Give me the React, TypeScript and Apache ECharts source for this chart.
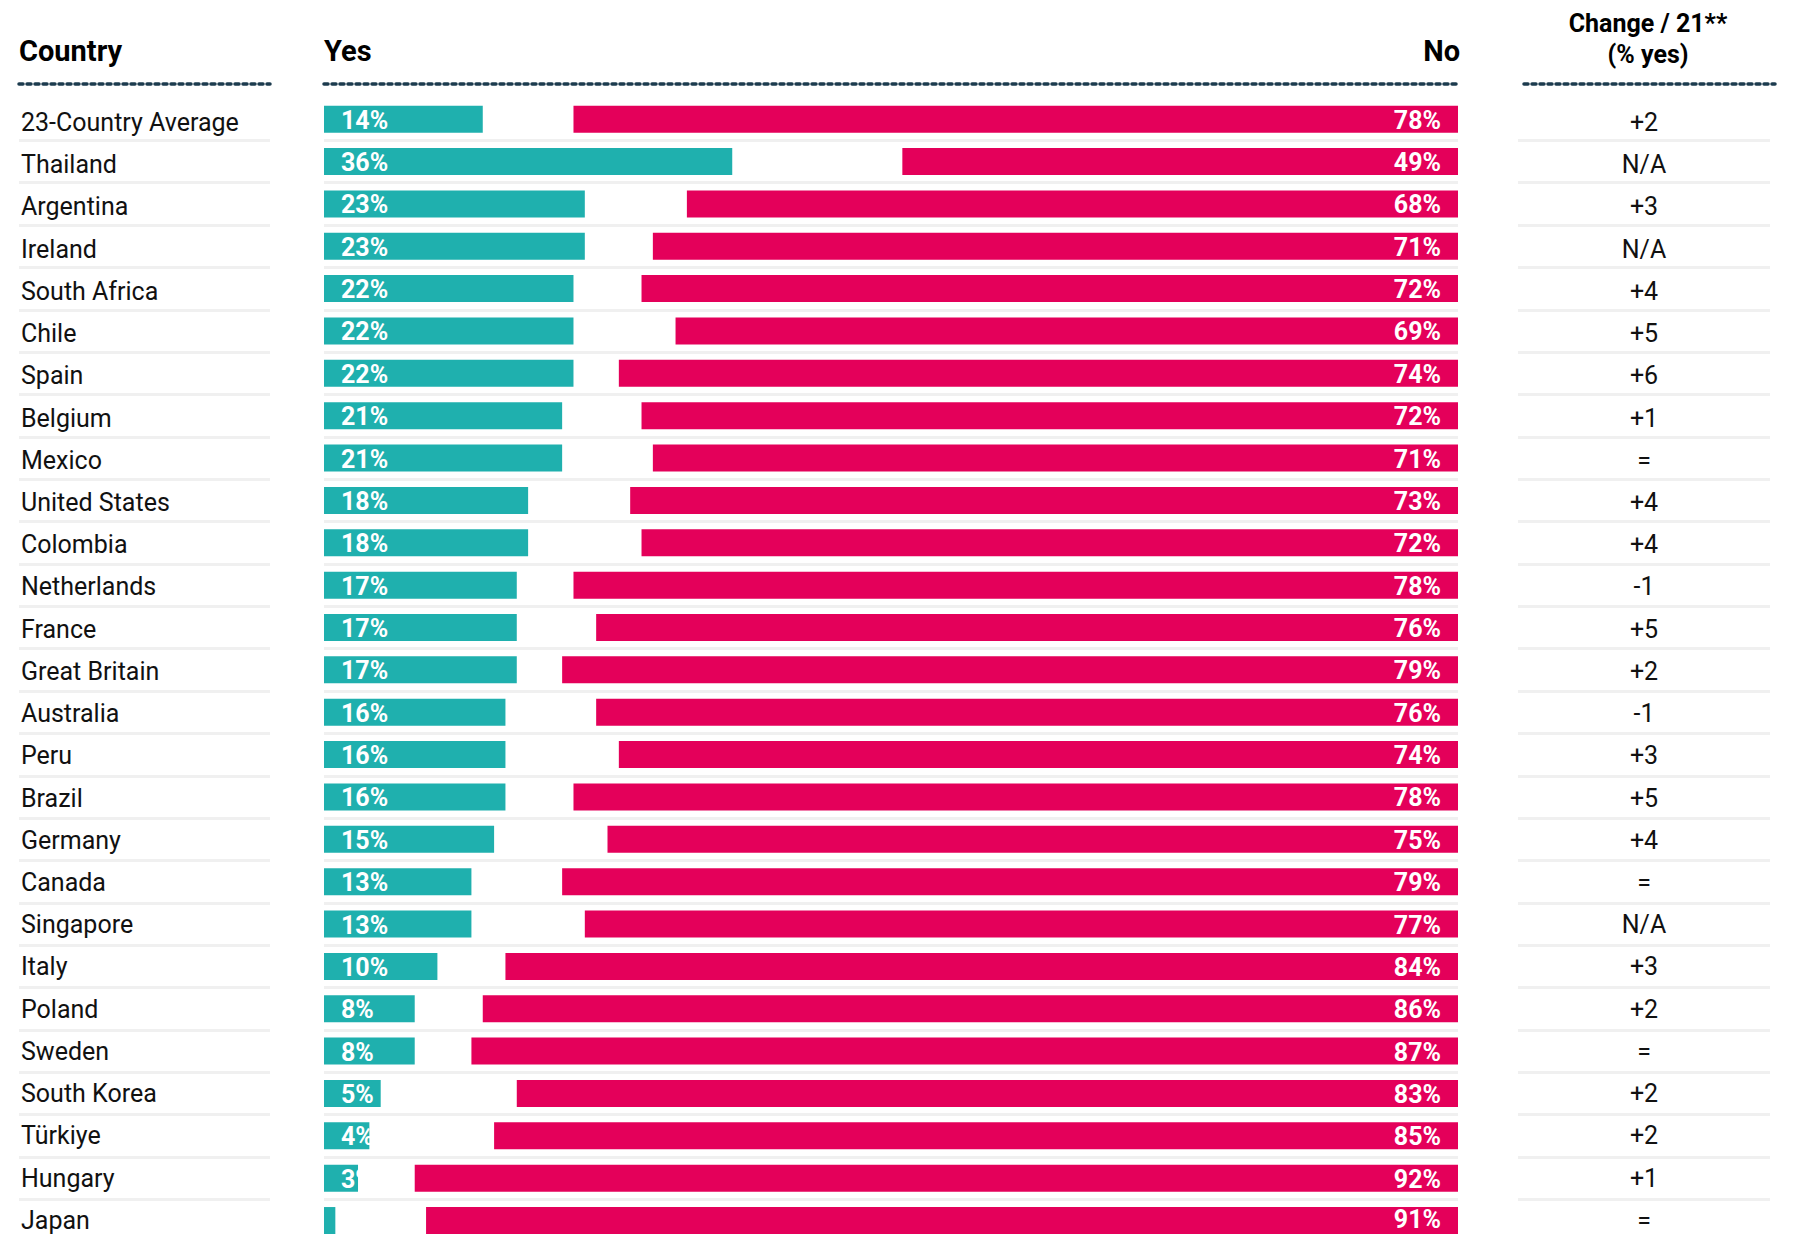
import React, { useEffect, useRef } from "react";
import * as echarts from "echarts";

// Survey results per country: share answering Yes / No, and change in % yes
const countries = [
  "23-Country Average", "Thailand", "Argentina", "Ireland", "South Africa", "Chile",
  "Spain", "Belgium", "Mexico", "United States", "Colombia", "Netherlands", "France",
  "Great Britain", "Australia", "Peru", "Brazil", "Germany", "Canada", "Singapore",
  "Italy", "Poland", "Sweden", "South Korea", "Türkiye", "Hungary", "Japan",
];
const yesValues = [14, 36, 23, 23, 22, 22, 22, 21, 21, 18, 18, 17, 17, 17, 16, 16, 16, 15, 13, 13, 10, 8, 8, 5, 4, 3, 1];
const noValues = [78, 49, 68, 71, 72, 69, 74, 72, 71, 73, 72, 78, 76, 79, 76, 74, 78, 75, 79, 77, 84, 86, 87, 83, 85, 92, 91];
const changeLabels = [
  "+2", "N/A", "+3", "N/A", "+4", "+5", "+6", "+1", "=", "+4", "+4", "-1", "+5",
  "+2", "-1", "+3", "+5", "+4", "=", "N/A", "+3", "+2", "=", "+2", "+2", "+1", "=",
];

const FONT = "Roboto, 'Noto Sans', sans-serif";
const TEAL = "#1FB0AE";
const PINK = "#E4005A";
const DOT = "#1C3B4E";
const SEP = "#F0F0F0";

const ROW_H = 42.36;
const GRID_TOP = 98;
const GRID_H = ROW_H * countries.length;
const DOT_Y = 84;
// Row texts run on a slightly tighter pitch, starting a little lower
const TEXT_ROW_H = 42.22;
const TEXT_TOP = 101.4;
const BAR_LEFT = 324;
const BAR_W = 1134;
const LABEL_PAD = 17;
const COUNTRY_COL = { left: 19, width: 251 };
const CHANGE_COL = { left: 1518, width: 252 };
const CHANGE_HEAD = { left: 1524, width: 251 };
const CHANGE_CENTER = 1644;

export default function App() {
  const ref = useRef<HTMLDivElement>(null);

  useEffect(() => {
    if (!ref.current) return;
    const chart = echarts.init(ref.current, null, { renderer: "svg" });
    const pxPerPct = BAR_W / 100;

    const dottedTop = (gridIndex: number, top: number, extra: any = {}) => ({
      type: "value",
      gridIndex,
      position: "top",
      offset: top - DOT_Y,
      axisLine: { show: true, onZero: false, lineStyle: { color: DOT, width: 3.5, type: [4, 4] } },
      axisTick: { show: false },
      axisLabel: { show: false },
      splitLine: { show: false },
      ...extra,
    });

    const hiddenX = (gridIndex: number) => ({ type: "value", gridIndex, show: false });

    // Category axis that only draws the light row separators
    const sepAxis = (gridIndex: number) => ({
      type: "category",
      gridIndex,
      data: countries,
      inverse: true,
      axisLine: { show: false },
      axisTick: { show: false },
      axisLabel: { show: false, interval: 0 },
      splitLine: {
        show: true,
        interval: 0,
        showMinLine: false,
        lineStyle: { color: SEP, width: 3 },
      },
    });

    // Category axis that only draws row texts
    const textAxis = (gridIndex: number, label: any) => ({
      type: "category",
      gridIndex,
      data: countries,
      inverse: true,
      axisLine: { show: false },
      axisTick: { show: false },
      splitLine: { show: false },
      axisLabel: {
        show: true,
        interval: 0,
        inside: true,
        color: "#111111",
        fontFamily: FONT,
        fontSize: 25,
        lineHeight: 24,
        ...label,
      },
    });

    const gridBase = { top: GRID_TOP, height: GRID_H, outerBoundsMode: "none", containLabel: false };
    const textGridBase = { ...gridBase, top: TEXT_TOP, height: TEXT_ROW_H * countries.length };

    // Labels on bars too narrow to hold any digit are left out
    const yesData = yesValues.map((v) => {
      const room = v * pxPerPct - LABEL_PAD;
      return room < 6 ? { value: v, label: { show: false } } : { value: v };
    });
    // The last row sits on the bottom edge: lift its label a touch
    const noData = noValues.map((v, i) =>
      i === noValues.length - 1 ? { value: v, label: { offset: [0, -1] } } : { value: v }
    );

    const barLabel = {
      show: true,
      distance: LABEL_PAD,
      offset: [0, 1],
      formatter: "{c}%",
      color: "#ffffff",
      fontFamily: FONT,
      fontWeight: "bold",
      fontSize: 25,
      lineHeight: 23,
    };

    const option: any = {
      animation: false,
      backgroundColor: "#ffffff",
      grid: [
        { ...gridBase, ...COUNTRY_COL },
        { ...gridBase, left: BAR_LEFT, width: BAR_W },
        { ...gridBase, ...CHANGE_COL },
        { ...textGridBase, ...COUNTRY_COL },
        { ...textGridBase, ...CHANGE_HEAD },
      ],
      xAxis: [
        dottedTop(0, GRID_TOP),
        dottedTop(1, GRID_TOP, { min: 0, max: 100 }),
        { type: "value", gridIndex: 1, min: 0, max: 100, inverse: true, position: "bottom", show: false },
        hiddenX(2),
        hiddenX(3),
        dottedTop(4, TEXT_TOP),
      ],
      yAxis: [
        sepAxis(0),
        sepAxis(1),
        sepAxis(2),
        textAxis(3, { align: "left", margin: 2 }),
        textAxis(4, {
          align: "center",
          margin: CHANGE_CENTER - CHANGE_HEAD.left,
          formatter: (_: string, i: number) => changeLabels[i],
        }),
      ],
      series: [
        {
          name: "Yes",
          type: "bar",
          xAxisIndex: 1,
          yAxisIndex: 1,
          barWidth: 27,
          barGap: "-100%",
          itemStyle: { color: TEAL },
          label: { ...barLabel, position: "insideLeft" },
          data: yesData,
        },
        {
          name: "No",
          type: "bar",
          xAxisIndex: 2,
          yAxisIndex: 1,
          barWidth: 27,
          barGap: "-100%",
          itemStyle: { color: PINK },
          label: { ...barLabel, position: "insideRight" },
          data: noData,
        },
      ],
      graphic: [
        {
          type: "text",
          left: 19,
          top: 36,
          style: { text: "Country", font: `bold 29px ${FONT}`, fill: "#000000" },
        },
        {
          type: "text",
          left: BAR_LEFT,
          top: 36,
          style: { text: "Yes", font: `bold 29px ${FONT}`, fill: "#000000" },
        },
        {
          type: "text",
          right: 1795 - 1460,
          top: 36,
          style: { text: "No", font: `bold 29px ${FONT}`, fill: "#000000" },
        },
        {
          type: "text",
          x: 1648,
          y: 39,
          style: {
            text: "Change / 21**\n(% yes)",
            font: `bold 25px ${FONT}`,
            fill: "#000000",
            align: "center",
            verticalAlign: "middle",
            lineHeight: 31,
          },
        },
      ],
    };

    chart.setOption(option);
    return () => chart.dispose();
  }, []);

  return (
    <div
      ref={ref}
      style={{ position: "absolute", left: 0, top: 0, width: 1795, height: 1234 }}
    />
  );
}
